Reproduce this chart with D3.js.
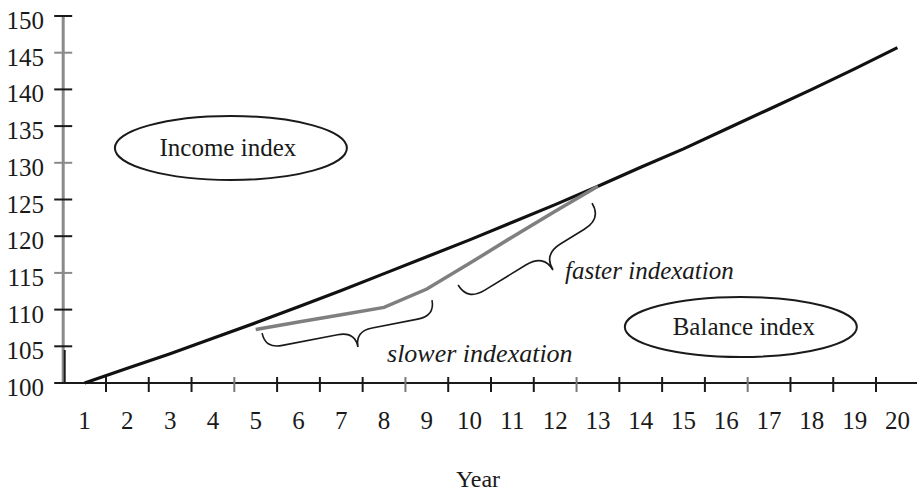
<!DOCTYPE html>
<html>
<head>
<meta charset="utf-8">
<script src="https://cdn.jsdelivr.net/npm/d3@7/dist/d3.min.js"></script>
<style>
  html, body { margin: 0; padding: 0; background: #fff; }
  svg { display: block; }
  text { font-family: "Liberation Serif", "Times New Roman", "DejaVu Serif", serif; fill: #1a1a1a; }
</style>
</head>
<body>
<svg id="chart" width="917" height="494"></svg>
<script>
// ---- data ----
const years = [1,2,3,4,5,6,7,8,9,10,11,12,13,14,15,16,17,18,19,20];
const incomeIndex = [100,102,104,106.1,108.2,110.4,112.6,114.9,117.2,119.5,121.9,124.3,126.8,129.4,131.9,134.6,137.3,140.0,142.8,145.7];
const balanceYears = [5,6,7,8,9,10,11,12,13];
const balanceIndex = [107.3,108.3,109.3,110.3,112.8,116.3,119.9,123.4,126.8];
const yTicks = [100,105,110,115,120,125,130,135,140,145,150];
const xLabel = "Year";
const seriesLabels = ["Income index", "Balance index"];
const annotationLabels = ["slower indexation", "faster indexation"];

// ---- layout ----
const svg = d3.select("#chart");
const x = d3.scaleLinear().domain([0.5, 20.5]).range([63.2, 918.8]);
const y = d3.scaleLinear().domain([100, 150]).range([383, 16]);

// y axis
const gy = svg.append("g");
gy.append("line").attr("x1", x(0.5)).attr("x2", x(0.5))
  .attr("y1", y(150)).attr("y2", y(100))
  .attr("stroke", "#8a8a8a").attr("stroke-width", 3);
const grayY = new Set([145, 130, 115]);
gy.selectAll("line.t").data(yTicks).join("line").attr("class", "t")
  .attr("x1", x(0.5) - 9).attr("x2", x(0.5) + 9)
  .attr("y1", d => y(d)).attr("y2", d => y(d))
  .attr("stroke", d => grayY.has(d) ? "#8a8a8a" : "#1a1a1a").attr("stroke-width", 2);
gy.selectAll("text").data(yTicks).join("text")
  .attr("x", 44).attr("y", d => y(d) + 13)
  .attr("text-anchor", "end").attr("font-size", 25)
  .text(d => d);
// small dark stroke near origin
gy.append("line").attr("x1", x(0.5) + 1.5).attr("x2", x(0.5) + 1.5)
  .attr("y1", y(104.5)).attr("y2", y(100))
  .attr("stroke", "#1a1a1a").attr("stroke-width", 2);

// x axis
const gx = svg.append("g");
gx.append("line").attr("x1", x(0.5)).attr("x2", 917)
  .attr("y1", y(100)).attr("y2", y(100))
  .attr("stroke", "#1a1a1a").attr("stroke-width", 2);
const boundaries = years.slice(0, 19).map(d => d + 0.5);
gx.selectAll("line.t").data(boundaries).join("line").attr("class", "t")
  .attr("x1", d => x(d)).attr("x2", d => x(d))
  .attr("y1", y(100) - 6).attr("y2", y(100) + 9)
  .attr("stroke", (d, i) => ((i + 1) % 4 === 0) ? "#7a7a7a" : "#1a1a1a")
  .attr("stroke-width", 2);
gx.selectAll("text").data(years).join("text")
  .attr("x", d => x(d)).attr("y", 429)
  .attr("text-anchor", "middle").attr("font-size", 25)
  .text(d => d);
svg.append("text").attr("x", 478).attr("y", 487)
  .attr("text-anchor", "middle").attr("font-size", 24).text(xLabel);

// lines
const line = d3.line().x(d => x(d[0])).y(d => y(d[1]));
svg.append("path")
  .datum(years.map((d, i) => [d, incomeIndex[i]]))
  .attr("d", line).attr("fill", "none")
  .attr("stroke", "#111").attr("stroke-width", 3.2);
svg.append("path")
  .datum(balanceYears.map((d, i) => [d, balanceIndex[i]]))
  .attr("d", line).attr("fill", "none")
  .attr("stroke", "#7f7f7f").attr("stroke-width", 3.5);

// braces (anchors in data units)
function bracePath(A, B, T) {
  const dx = B[0] - A[0], dy = B[1] - A[1], L = Math.hypot(dx, dy);
  const u = [dx / L, dy / L];
  let n = [-u[1], u[0]];
  const s = (T[0] - A[0]) * u[0] + (T[1] - A[1]) * u[1];
  let D = (T[0] - A[0]) * n[0] + (T[1] - A[1]) * n[1];
  if (D < 0) { n = [-n[0], -n[1]]; D = -D; }
  const h = D / 2;
  const r = Math.min(h * 1.1, s / 3, (L - s) / 3);
  const P = [A[0] + u[0] * s, A[1] + u[1] * s];
  const pt = (b, a, m) => [b[0] + u[0] * a + n[0] * m, b[1] + u[1] * a + n[1] * m];
  const f = p => p[0].toFixed(1) + "," + p[1].toFixed(1);
  return "M" + f(A) +
    " Q" + f(pt(A, 0, h)) + " " + f(pt(A, r, h)) +
    " L" + f(pt(P, -r, h)) +
    " Q" + f(pt(P, 0, h)) + " " + f(T) +
    " Q" + f(pt(P, 0, h)) + " " + f(pt(P, r, h)) +
    " L" + f(pt(B, -r, h)) +
    " Q" + f(pt(B, 0, h)) + " " + f(B);
}
const P = (a, b) => [x(a), y(b)];
svg.append("path")
  .attr("d", bracePath(P(5.15, 106.8), P(9.12, 111.3), P(7.39, 104.9)))
  .attr("fill", "none").attr("stroke", "#1a1a1a").attr("stroke-width", 1.6);
svg.append("path")
  .attr("d", bracePath(P(9.73, 113.35), P(12.86, 124.5), P(11.95, 115.4)))
  .attr("fill", "none").attr("stroke", "#1a1a1a").attr("stroke-width", 1.6);

svg.append("text").attr("x", x(8.07)).attr("y", y(102.86))
  .attr("font-size", 26).attr("font-style", "italic").text(annotationLabels[0]);
svg.append("text").attr("x", x(12.23)).attr("y", y(114.17))
  .attr("font-size", 25).attr("font-style", "italic").text(annotationLabels[1]);

// ellipse labels
const ellipses = [
  { cx: x(4.42), cy: y(132.02), rx: 116, ry: 32, label: seriesLabels[0], dx: -3 },
  { cx: x(16.34), cy: y(107.63), rx: 116, ry: 30, label: seriesLabels[1], dx: 3 }
];
ellipses.forEach(e => {
  svg.append("ellipse").attr("cx", e.cx).attr("cy", e.cy).attr("rx", e.rx).attr("ry", e.ry)
    .attr("fill", "none").attr("stroke", "#1a1a1a").attr("stroke-width", 2);
  svg.append("text").attr("x", e.cx + e.dx).attr("y", e.cy + 8)
    .attr("text-anchor", "middle").attr("font-size", 25).text(e.label);
});
</script>
</body>
</html>
